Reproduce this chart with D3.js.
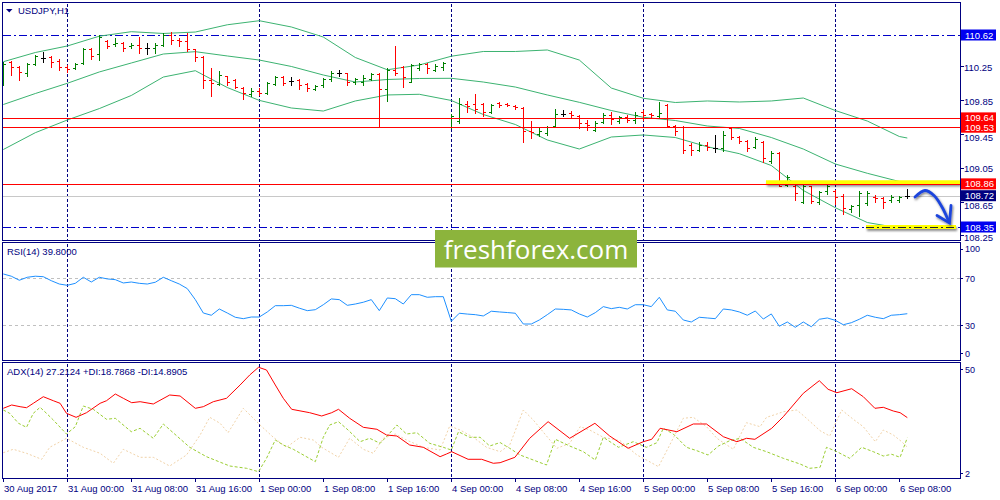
<!DOCTYPE html>
<html><head><meta charset="utf-8">
<script src="https://cdn.jsdelivr.net/npm/d3@7"></script>
<style>body{margin:0;background:#fff;overflow:hidden}svg{display:block}</style>
</head><body><svg id="c" width="1000" height="500"></svg>
<script>
// ---------------- DATA ----------------
const barOpen  = [110.05,110.30,110.24,110.17,110.28,110.35,110.36,110.31,110.24,110.23,110.29,110.45,110.39,110.55,110.51,110.52,110.49,110.50,110.47,110.47,110.50,110.62,110.56,110.55,110.45,110.36,110.09,110.04,110.13,110.09,109.99,109.92,109.96,109.93,110.04,110.12,110.08,110.09,110.04,109.98,110.03,110.10,110.17,110.17,110.07,110.07,110.10,110.16,109.98,110.21,110.24,110.07,110.23,110.28,110.21,110.24,109.53,109.60,109.80,109.80,109.80,109.71,109.82,109.81,109.78,109.76,109.49,109.45,109.46,109.54,109.69,109.70,109.66,109.58,109.50,109.59,109.68,109.60,109.65,109.62,109.71,109.69,109.66,109.79,109.54,109.53,109.32,109.26,109.32,109.28,109.28,109.52,109.41,109.37,109.29,109.36,109.13,109.23,108.85,108.83,108.65,108.83,108.65,108.77,108.77,108.72,108.56,108.61,108.63,108.71,108.69,108.67,108.67,108.72];
const barHigh  = [110.30,110.31,110.25,110.29,110.38,110.42,110.37,110.34,110.26,110.29,110.47,110.47,110.62,110.56,110.58,110.54,110.52,110.60,110.52,110.52,110.64,110.66,110.59,110.64,110.46,110.37,110.23,110.19,110.14,110.10,110.01,109.99,109.99,110.06,110.14,110.13,110.12,110.10,110.05,110.03,110.11,110.19,110.21,110.17,110.11,110.15,110.17,110.17,110.23,110.49,110.25,110.28,110.29,110.29,110.28,110.30,109.69,109.88,109.84,109.92,109.82,109.80,109.83,109.82,109.79,109.77,109.60,109.52,109.54,109.75,109.73,109.72,109.68,109.62,109.60,109.70,109.71,109.66,109.67,109.71,109.73,109.70,109.83,109.80,109.56,109.54,109.34,109.36,109.36,109.44,109.48,109.53,109.42,109.38,109.41,109.37,109.25,109.24,108.96,108.85,108.85,108.84,108.78,108.85,108.79,108.74,108.61,108.78,108.78,108.73,108.71,108.73,108.72,108.80];
const barLow   = [110.03,110.15,110.09,110.14,110.27,110.30,110.24,110.21,110.18,110.22,110.28,110.34,110.33,110.47,110.49,110.43,110.47,110.41,110.39,110.41,110.49,110.51,110.49,110.43,110.31,109.99,109.90,110.03,110.03,109.99,109.86,109.90,109.91,109.92,110.03,110.03,110.03,109.98,109.96,109.97,110.01,110.08,110.14,110.03,110.04,110.03,110.09,109.53,109.84,110.15,110.01,110.06,110.21,110.17,110.20,110.21,109.52,109.58,109.71,109.70,109.66,109.70,109.77,109.78,109.75,109.36,109.40,109.42,109.44,109.53,109.66,109.65,109.52,109.50,109.48,109.58,109.57,109.58,109.59,109.58,109.62,109.64,109.65,109.54,109.44,109.23,109.20,109.25,109.26,109.24,109.25,109.39,109.34,109.25,109.28,109.12,109.11,108.83,108.83,108.67,108.63,108.63,108.62,108.74,108.62,108.50,108.53,108.48,108.61,108.65,108.58,108.65,108.65,108.69];
const barClose = [110.28,110.24,110.18,110.28,110.37,110.35,110.30,110.24,110.22,110.28,110.46,110.37,110.60,110.49,110.53,110.47,110.50,110.47,110.47,110.50,110.62,110.56,110.55,110.46,110.36,110.09,110.05,110.15,110.07,110.01,109.93,109.96,109.94,110.05,110.12,110.05,110.08,110.03,109.99,110.02,110.10,110.17,110.17,110.07,110.10,110.11,110.16,109.98,110.21,110.17,110.12,110.27,110.28,110.23,110.25,110.29,109.66,109.81,109.78,109.75,109.71,109.79,109.79,109.79,109.77,109.49,109.47,109.49,109.53,109.69,109.69,109.68,109.58,109.56,109.58,109.68,109.63,109.65,109.62,109.68,109.68,109.67,109.70,109.55,109.49,109.26,109.26,109.32,109.29,109.28,109.44,109.41,109.37,109.28,109.39,109.16,109.23,108.84,108.94,108.75,108.83,108.66,108.76,108.83,108.71,108.58,108.60,108.75,108.75,108.69,108.65,108.71,108.71,108.72];

// Bollinger bands read at every 4th bar (plus the last bar)
const bandIdx   = [0,4,8,12,16,20,24,28,32,36,40,44,48,52,56,60,64,68,72,76,80,84,88,92,96,100,104,108,112,113];
const bandUpper = [110.304,110.413,110.490,110.606,110.659,110.638,110.655,110.741,110.789,110.715,110.596,110.354,110.209,110.265,110.369,110.425,110.425,110.443,110.324,109.993,109.872,109.822,109.840,109.828,109.840,109.875,109.727,109.603,109.420,109.402];
const bandMid   = [109.798,109.928,110.049,110.183,110.289,110.395,110.423,110.372,110.324,110.248,110.147,110.064,110.094,110.106,110.108,110.064,110.005,109.911,109.824,109.727,109.647,109.609,109.544,109.515,109.408,109.272,109.095,108.985,108.888,108.864];
const bandLower = [109.266,109.465,109.615,109.750,109.905,110.123,110.198,109.999,109.847,109.757,109.721,109.840,109.911,109.919,109.846,109.680,109.562,109.379,109.272,109.414,109.438,109.408,109.299,109.217,109.077,108.782,108.578,108.403,108.338,108.335];

const redLevels  = [109.64,109.53,108.86];
const blueLevels = [110.62,108.35];
const bidLevel   = 108.72;
const priceTicks = [110.25,109.85,109.45,109.05,108.65,108.25];
const priceTags  = [
  {v:110.62,c:'#0000f0'},{v:109.64,c:'#ff0000'},{v:109.53,c:'#ff0000'},
  {v:108.86,c:'#ff0000'},{v:108.72,c:'#000080'},{v:108.35,c:'#0000f0'}];

const rsiValues = [73.4,71.5,68.1,70.6,71.5,71.1,67.7,64.9,63.8,65.5,70.6,66.6,70.6,69.2,68.6,65.8,66.6,65.5,64.9,66.4,70.6,67.7,64.9,61.0,51.7,40.4,38.5,43.8,40.4,36.8,35.6,37.0,37.0,41.3,46.6,46.6,46.9,44.5,42.4,43.2,47.4,52.3,51.7,46.9,48.0,49.5,51.7,42.4,53.1,52.5,48.0,55.9,55.9,53.7,54.2,54.2,33.4,40.2,39.5,39.0,37.9,41.9,41.3,40.8,40.2,31.1,31.1,34.5,39.0,43.8,43.5,43.0,39.6,37.0,40.7,45.8,44.1,45.2,43.8,47.4,47.4,45.8,53.7,43.0,41.9,34.5,32.8,36.8,36.2,35.6,43.8,43.0,41.3,38.5,42.1,35.3,39.6,29.2,32.8,28.3,32.8,28.8,35.1,36.2,34.2,30.5,32.2,35.1,38.5,36.8,35.6,38.5,39.0,39.8];
const rsiLevels = [70,30];
const rsiTicks  = [100,70,30,0];

// [bar position, value]
const adxMain = [[0,31.09],[1.05,32.47],[2.1,31.76],[2.9,31.34],[3.75,33.18],[5,35.93],[6.25,34.26],[7.1,33.18],[7.9,29.0],[9.1,27.33],[10.4,29.26],[12.1,33.18],[12.9,34.26],[14,37.06],[15,35.27],[16.05,33.43],[17.1,33.85],[18.75,32.89],[20.8,36.64],[22.1,36.23],[24,31.09],[25,31.76],[26.25,33.85],[27.9,35.27],[29.6,40.82],[30.8,44.99],[31.9,48.21],[32.9,47.08],[34,40.82],[35,35.27],[36.05,30.67],[38.3,29.26],[39.8,27.88],[41.05,29.26],[41.9,30.67],[43.3,26.92],[45,23.16],[46.7,22.33],[47.9,19.95],[49.2,19.53],[50.8,15.77],[52.5,14.81],[54.6,10.89],[55.4,12.02],[56.05,12.98],[58.1,9.81],[59.8,9.81],[61.25,8.14],[62.1,8.39],[63.95,10.64],[65.8,18.57],[68.1,25.5],[70.8,18.57],[73.95,24.83],[75.8,19.53],[78.1,14.4],[80,17.15],[81.05,18.15],[82.1,22.74],[84.2,21.32],[86.25,24.54],[87.9,24.54],[90,19.24],[91.7,17.15],[92.9,18.57],[93.95,18.15],[96.05,22.74],[97.5,27.59],[100,37.35],[102,42.61],[103.1,39.02],[104.2,37.6],[106.05,39.27],[107.5,35.93],[108.95,31.09],[110,31.51],[111.25,29.96],[112.1,29.26],[113,27.21]];
const adxPlusDI = [[0,30.38],[0.8,29.0],[1.9,24.83],[2.9,23.16],[3.75,29.0],[4.6,31.51],[5.4,29.0],[6.25,26.21],[7.9,20.36],[9,23.41],[10,32.05],[11.25,30.67],[12.9,26.5],[14,26.92],[16,21.32],[17.1,22.74],[18.75,18.57],[20,24.54],[21.7,19.53],[23.3,14.81],[25.4,10.89],[28.3,7.01],[30.4,6.05],[31.9,4.63],[32.9,10.22],[34,17.86],[35,15.77],[36.25,13.98],[39,8.8],[40,18.99],[40.8,24.12],[41.9,25.5],[43.1,22.03],[44.6,17.15],[45.8,18.57],[47.1,16.48],[48.1,19.95],[49.2,24.12],[50.4,20.36],[51.7,20.91],[53.3,16.48],[55,14.81],[56,13.69],[56.9,21.32],[58.3,18.99],[59.6,18.99],[60.8,15.36],[62.1,16.8],[63.3,14.4],[64.6,11.6],[66.25,9.51],[67.9,7.43],[69,18.15],[70.8,15.36],[72.5,12.98],[74,9.51],[75,18.99],[76.9,14.81],[78.75,17.15],[80.4,14.81],[81.7,16.73],[82.5,22.74],[83.75,20.36],[85.4,14.81],[86.7,13.39],[88.1,11.6],[89.4,15.36],[90.8,17.57],[92.1,18.57],[93.75,14.81],[95.4,12.98],[97.5,10.22],[99.6,7.84],[100.8,6.05],[102.1,6.47],[102.9,14.81],[104.2,12.98],[105.8,10.22],[107.3,14.81],[108.75,12.98],[110,11.18],[111.05,11.89],[112.1,10.64],[113,18.79]];
const adxMinusDI = [[0,12.56],[1.25,13.98],[2.9,12.31],[4.8,9.81],[5.8,14.81],[7.9,18.57],[10,14.81],[12.1,12.31],[13.75,8.14],[15,13.98],[17.1,10.64],[18.75,10.64],[20.8,7.01],[22.9,11.6],[24.6,19.95],[25.8,27.34],[27.1,24.83],[28.1,20.91],[30,31.09],[32.1,24.12],[33.75,18.99],[35.4,14.81],[37.1,18.99],[38.75,17.86],[39.8,14.81],[41.9,10.64],[43.3,18.57],[45,13.98],[46.25,12.31],[47.5,18.57],[49,20.36],[50.4,17.86],[52.5,14.81],[54.6,13.69],[55.8,23.7],[57.1,22.03],[58.75,18.99],[60.4,14.81],[62.1,12.98],[63.3,15.77],[65,30.38],[66.25,26.21],[67.9,19.53],[69.2,14.4],[70.8,16.48],[72.1,23.41],[73.3,22.03],[75,18.99],[77.1,17.57],[79.2,11.6],[80.4,9.51],[81.9,6.72],[83.3,15.77],[85,26.92],[86.25,27.33],[87.9,23.41],[89.2,18.57],[91.25,13.98],[92.9,25.08],[94.6,23.41],[95.4,27.33],[96.7,28.71],[97.5,29.67],[99.2,30.38],[100.4,26.92],[102.1,21.74],[103.3,19.53],[104.8,30.38],[106.25,26.5],[107.5,23.41],[109,17.15],[110,22.03],[111.25,19.95],[112.3,17.15],[113,14.89]];
const adxTicks = [50,2];

const dayLineIdx = [8,32,56,80,104];
const timeTickIdx = [0,8,16,24,32,40,48,56,64,72,80,88,96,104,112];
const timeLabels = ['30 Aug 2017','31 Aug 00:00','31 Aug 08:00','31 Aug 16:00','1 Sep 00:00','1 Sep 08:00','1 Sep 16:00','4 Sep 00:00','4 Sep 08:00','4 Sep 16:00','5 Sep 00:00','5 Sep 08:00','5 Sep 16:00','6 Sep 00:00','6 Sep 08:00'];

const titleText = 'USDJPY,H1';
const rsiTitle = 'RSI(14) 39.8000';
const adxTitle = 'ADX(14) 27.2124 +DI:18.7868 -DI:14.8905';
const watermark = 'freshforex.com';

// ---------------- DRAW ----------------
const FONT = '"Liberation Sans", Arial, sans-serif';
const NAVY = '#000080';
const svg = d3.select('#c');
const L = 3, R = 960;
const P = {main:[3,240], rsi:[242.5,360], adx:[362.5,478]};

const x = d3.scaleLinear().domain([0,113]).range([3.3,907.3]);
const yMain = d3.scaleLinear().domain([108.35,110.62]).range([227,35]);
const yRsi = d3.scaleLinear().domain([0,100]).range([360.8,242.5]);
const yAdx = d3.scaleLinear().domain([2,50]).range([478,363]);
const cx = i => Math.round(x(i));
const cy = v => Math.round(v);

const defs = svg.append('defs');
const flt = defs.append('filter').attr('id','sh').attr('x','-5%').attr('y','-100%').attr('width','110%').attr('height','400%');
flt.append('feDropShadow').attr('dx',1).attr('dy',2).attr('stdDeviation',1.3).attr('flood-color','#000').attr('flood-opacity',0.45);
const flt2 = defs.append('filter').attr('id','ash').attr('x','-20%').attr('y','-20%').attr('width','140%').attr('height','140%');
flt2.append('feDropShadow').attr('dx',1).attr('dy',1.5).attr('stdDeviation',1).attr('flood-color','#000').attr('flood-opacity',0.5);
['main','rsi','adx'].forEach(k=>{
  defs.append('clipPath').attr('id','clip-'+k).append('rect')
    .attr('x',L).attr('y',P[k][0]).attr('width',R-L).attr('height',P[k][1]-P[k][0]);
});

// panel borders
const gFrame = svg.append('g').attr('shape-rendering','crispEdges');
Object.values(P).forEach(p=>{
  gFrame.append('rect').attr('x',L-0.5).attr('y',Math.round(p[0])-0.5).attr('width',R-L+1).attr('height',Math.round(p[1])-Math.round(p[0])+1)
    .attr('fill','none').attr('stroke',NAVY).attr('stroke-width',1);
});

// vertical day separators
const gV = svg.append('g').attr('shape-rendering','crispEdges');
Object.values(P).forEach(p=>{
  gV.selectAll(null).data(dayLineIdx).join('line')
    .attr('x1',d=>cx(d)+0.5).attr('x2',d=>cx(d)+0.5).attr('y1',p[0]+1).attr('y2',p[1])
    .attr('stroke',NAVY).attr('stroke-dasharray','3,2');
});

// ---- main panel ----
const gM = svg.append('g').attr('clip-path','url(#clip-main)');
const gH = gM.append('g').attr('shape-rendering','crispEdges');
gH.append('line').attr('x1',L).attr('x2',R).attr('y1',cy(yMain(bidLevel))+0.5).attr('y2',cy(yMain(bidLevel))+0.5).attr('stroke','#c8c8c8');
gH.selectAll(null).data(blueLevels).join('line')
  .attr('x1',L).attr('x2',R).attr('y1',d=>cy(yMain(d))+0.5).attr('y2',d=>cy(yMain(d))+0.5)
  .attr('stroke','#0000c8').attr('stroke-dasharray','8,3,2,3');

// bollinger
const bandLine = vals => d3.line().x((d,i)=>x(bandIdx[i])).y(d=>yMain(d))(vals);
[bandUpper,bandMid,bandLower].forEach(b=>{
  gM.append('path').attr('d',bandLine(b)).attr('fill','none').attr('stroke','#3cb371').attr('stroke-width',1);
});

// bars
const bars = barOpen.map((o,i)=>({i,o,h:barHigh[i],l:barLow[i],c:barClose[i]}));
const col = d => d.c>d.o ? '#008000' : (d.c<d.o ? '#ff0000' : '#000000');
const gB = gM.append('g').attr('shape-rendering','crispEdges').attr('stroke-width',1);
gB.selectAll('line.hl').data(bars).join('line').attr('class','hl')
  .attr('x1',d=>cx(d.i)+0.5).attr('x2',d=>cx(d.i)+0.5)
  .attr('y1',d=>cy(yMain(d.h))).attr('y2',d=>cy(yMain(d.l))+1).attr('stroke',col);
gB.selectAll('line.op').data(bars).join('line').attr('class','op')
  .attr('x1',d=>cx(d.i)-2).attr('x2',d=>cx(d.i)+1)
  .attr('y1',d=>cy(yMain(d.o))+0.5).attr('y2',d=>cy(yMain(d.o))+0.5).attr('stroke',col);
gB.selectAll('line.cl').data(bars).join('line').attr('class','cl')
  .attr('x1',d=>cx(d.i)).attr('x2',d=>cx(d.i)+3)
  .attr('y1',d=>cy(yMain(d.c))+0.5).attr('y2',d=>cy(yMain(d.c))+0.5).attr('stroke',col);

// yellow highlights
const hl1y = yMain(108.86), hl2y = yMain(108.35);
svg.append('rect').attr('x',766).attr('y',hl1y-3.6).attr('width',R-766).attr('height',4.2).attr('fill','#ffff00').attr('filter','url(#sh)');
svg.append('rect').attr('x',866).attr('y',hl2y-2).attr('width',956-866).attr('height',4).attr('fill','#ffff00').attr('filter','url(#sh)');
// red levels on top
svg.append('g').attr('shape-rendering','crispEdges').selectAll(null).data(redLevels).join('line')
  .attr('x1',L).attr('x2',R).attr('y1',d=>cy(yMain(d))+0.5).attr('y2',d=>cy(yMain(d))+0.5).attr('stroke','#ff0000');
svg.append('line').attr('x1',866).attr('x2',956).attr('y1',cy(hl2y)+0.5).attr('y2',cy(hl2y)+0.5)
  .attr('stroke','#202020').attr('stroke-dasharray','8,3,2,3').attr('shape-rendering','crispEdges');

// arrow
const arrowPts = [[915,197],[925,190.5],[934,195.5],[942,207],[949,222]];
const gA = svg.append('g').attr('filter','url(#ash)').attr('fill','none').attr('stroke','#1f45dc').attr('stroke-width',2.8).attr('stroke-linecap','round');
gA.append('path').attr('d',d3.line().curve(d3.curveCatmullRom)(arrowPts));
gA.append('path').attr('d',d3.line()([[937,215.5],[949.5,223],[951,205.5]]));

// title
svg.append('path').attr('d','M6,9 L12.5,9 L9.25,12.5 Z').attr('fill',NAVY);
const txt = (g,t,xx,yy,o={}) => g.append('text').attr('x',xx).attr('y',yy).text(t)
  .attr('font-family',o.ff||FONT).attr('font-size',o.fs||9.5).attr('fill',o.fill||NAVY).attr('text-anchor',o.anchor||'start');
txt(svg,titleText,18,14);

// price axis (labels partly hidden by a tag are nudged just clear of it)
const tagHalf = 5.5;
const labelBase = v => {
  let b = yMain(v) + 4.5;
  priceTags.forEach(t=>{
    const ty = yMain(t.v);
    if (Math.abs(ty - yMain(v)) < 9 && ty < yMain(v)) b = Math.max(b, ty + tagHalf + 8.2);
  });
  return b;
};
const gAx = svg.append('g');
gAx.selectAll(null).data(priceTicks).join('line').attr('shape-rendering','crispEdges')
  .attr('x1',R).attr('x2',R+4).attr('y1',d=>cy(yMain(d))+0.5).attr('y2',d=>cy(yMain(d))+0.5).attr('stroke',NAVY);
gAx.selectAll(null).data(priceTicks).join('text')
  .attr('x',964).attr('y',d=>labelBase(d)).text(d=>d.toFixed(2))
  .attr('font-family',FONT).attr('font-size',9.5).attr('fill',NAVY);
const tags = gAx.selectAll('g.tag').data(priceTags).join('g').attr('class','tag');
tags.append('rect').attr('x',961).attr('y',d=>yMain(d.v)-tagHalf).attr('width',35).attr('height',tagHalf*2).attr('fill',d=>d.c);
tags.append('text').attr('x',965).attr('y',d=>yMain(d.v)+3.6).text(d=>d.v.toFixed(2))
  .attr('font-family',FONT).attr('font-size',9.5).attr('fill','#ffffff');

// ---- RSI panel ----
const gR = svg.append('g').attr('clip-path','url(#clip-rsi)');
gR.selectAll(null).data(rsiLevels).join('line').attr('shape-rendering','crispEdges')
  .attr('x1',L).attr('x2',R).attr('y1',d=>cy(yRsi(d))+0.5).attr('y2',d=>cy(yRsi(d))+0.5)
  .attr('stroke','#c0c0c0').attr('stroke-dasharray','3,3');
gR.append('path').attr('d',d3.line().x((d,i)=>x(i)).y(d=>yRsi(d))(rsiValues))
  .attr('fill','none').attr('stroke','#1e90ff').attr('stroke-width',1);
txt(svg,rsiTitle,7,255);
const rsiLabY = {100:252,70:281.5,30:328.5,0:356.5};
svg.selectAll(null).data(rsiTicks).join('text').attr('x',965).attr('y',d=>rsiLabY[d]).text(d=>d)
  .attr('font-family',FONT).attr('font-size',9).attr('fill',NAVY);
svg.selectAll(null).data(rsiTicks).join('line').attr('shape-rendering','crispEdges')
  .attr('x1',R).attr('x2',R+3).attr('y1',d=>cy(rsiLabY[d]-3.5)+0.5).attr('y2',d=>cy(rsiLabY[d]-3.5)+0.5).attr('stroke',NAVY);

// ---- ADX panel ----
const gD = svg.append('g').attr('clip-path','url(#clip-adx)');
const adxLine = d3.line().x(d=>x(d[0])).y(d=>yAdx(d[1]));
gD.append('path').attr('d',adxLine(adxMinusDI)).attr('fill','none').attr('stroke','#f0d2a8').attr('stroke-width',1).attr('stroke-dasharray','2,2');
gD.append('path').attr('d',adxLine(adxPlusDI)).attr('fill','none').attr('stroke','#9acd32').attr('stroke-width',1).attr('stroke-dasharray','3,2');
gD.append('path').attr('d',adxLine(adxMain)).attr('fill','none').attr('stroke','#ff0000').attr('stroke-width',1);
txt(svg,adxTitle,7,375);
const adxLabY = {50:372.5,2:476.5};
svg.selectAll(null).data(adxTicks).join('text').attr('x',965).attr('y',d=>adxLabY[d]).text(d=>d)
  .attr('font-family',FONT).attr('font-size',9).attr('fill',NAVY);
svg.selectAll(null).data(adxTicks).join('line').attr('shape-rendering','crispEdges')
  .attr('x1',R).attr('x2',R+3).attr('y1',d=>cy(adxLabY[d]-3.5)+0.5).attr('y2',d=>cy(adxLabY[d]-3.5)+0.5).attr('stroke',NAVY);

// time axis
svg.selectAll(null).data(timeTickIdx).join('line').attr('shape-rendering','crispEdges')
  .attr('x1',d=>cx(d)+0.5).attr('x2',d=>cx(d)+0.5).attr('y1',478).attr('y2',482).attr('stroke',NAVY);
svg.selectAll(null).data(timeTickIdx).join('text')
  .attr('x',d=>cx(d)+1).attr('y',491.5).text((d,i)=>timeLabels[i])
  .attr('font-family',FONT).attr('font-size',9.5).attr('fill',NAVY);

// watermark
svg.append('rect').attr('x',435).attr('y',230).attr('width',202).attr('height',37.5).attr('fill','#8cb43c');
svg.append('text').attr('x',536).attr('y',258.5).attr('text-anchor','middle').text(watermark)
  .attr('font-family','"Open Sans", sans-serif').attr('font-size',26).attr('fill','#ffffff');
</script>
</body></html>
